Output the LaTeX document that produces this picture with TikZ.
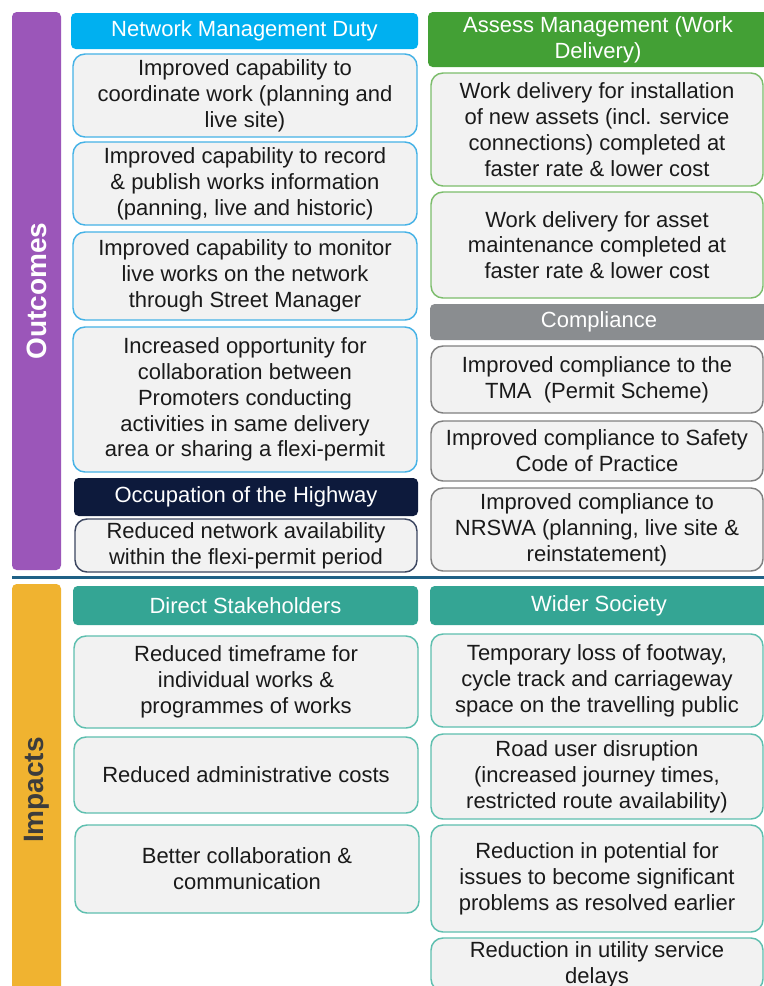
\documentclass[tikz,border=0pt]{standalone}
\usepackage{fontspec}
\setmainfont{Liberation Sans}
\definecolor{barpurple}{HTML}{9B56B9}
\definecolor{baryellow}{HTML}{F0B330}
\definecolor{sepline}{HTML}{1F6186}
\definecolor{nmdhead}{HTML}{00B0F0}
\definecolor{nmdline}{HTML}{45B2E6}
\definecolor{amhead}{HTML}{43A035}
\definecolor{amline}{HTML}{7CBD6C}
\definecolor{comphead}{HTML}{8A8D90}
\definecolor{compline}{HTML}{808080}
\definecolor{occhead}{HTML}{0D1A3C}
\definecolor{occline}{HTML}{3C4660}
\definecolor{imphead}{HTML}{34A594}
\definecolor{impline}{HTML}{5EBFAF}
\definecolor{boxfill}{HTML}{F2F2F2}
\definecolor{bodytext}{HTML}{1A1A1A}
\tikzset{
  x=0.75pt, y=-0.75pt,
  bodyfont/.style={font=\fontsize{16.5pt}{19.4pt}\selectfont},
  infobox/.style={bodyfont, draw=#1, fill=boxfill, line width=1.1pt,
    rounded corners=9pt, align=center, text=bodytext, inner sep=1pt},
  headbox/.style={bodyfont, fill=#1, rounded corners=3.5pt, align=center,
    text=white, inner sep=1pt},
  sidebar/.style={fill=#1, rounded corners=3.5pt, inner sep=0pt},
}
% place a node filling the pixel rectangle (x1,y1)-(x2,y2)
\newcommand\rectnode[7]{%
  \node[#2, minimum width={(#5-#3)*0.75pt}, minimum height={(#6-#4)*0.75pt}]
    (#1) at ({(#3+#5)/2},{(#4+#6)/2}) {#7};}
\begin{document}
\begin{tikzpicture}
\useasboundingbox (0,0) rectangle (764,986);
\clip (0,0) rectangle (764,986);
\fill[white] (0,0) rectangle (764,986);

% side bars
\rectnode{outbar}{sidebar=barpurple}{12}{12}{61}{570}{}
\node[rotate=90, text=white, font=\fontsize{21pt}{24pt}\selectfont\bfseries]
  (outlabel) at (37,291) {Outcomes};
\rectnode{impbar}{sidebar=baryellow}{12}{584}{61}{1000}{}
\node[rotate=90, text=bodytext!85, font=\fontsize{21pt}{24pt}\selectfont\bfseries]
  (implabel) at (37,790) {Impacts};

% separator
\draw[sepline, line width=2.3pt] (12,577.5) -- (764,577.5);

% Network Management Duty
\rectnode{nmd}{headbox=nmdhead}{71}{13}{418}{49}{Network Management Duty}
\rectnode{nmdA}{infobox=nmdline}{73}{54}{417}{137}{Improved capability to\\coordinate work (planning and\\live site)}
\rectnode{nmdB}{infobox=nmdline}{73}{142}{417}{225}{Improved capability to record\\\& publish works information\\(panning, live and historic)}
\rectnode{nmdC}{infobox=nmdline}{73}{232}{417}{320}{Improved capability to monitor\\live works on the network\\through Street Manager}
\rectnode{nmdD}{infobox=nmdline}{73}{327}{417}{472}{Increased opportunity for\\collaboration between\\Promoters conducting\\activities in same delivery\\area or sharing a flexi-permit}

% Occupation of the Highway
\rectnode{occ}{headbox=occhead}{74}{478}{418}{516}{Occupation of the Highway}
\rectnode{occA}{infobox=occline}{75}{519}{417}{572}{Reduced network availability\\within the flexi-permit period}

% Asset management
\rectnode{am}{headbox=amhead}{428}{12}{768}{67}{Assess Management (Work\\Delivery)}
\rectnode{amA}{infobox=amline}{431}{73}{763}{186}{Work delivery for installation\\of new assets (incl. service\\connections) completed at\\faster rate \& lower cost}
\rectnode{amB}{infobox=amline}{431}{192}{763}{298}{Work delivery for asset\\maintenance completed at\\faster rate \& lower cost}

% Compliance
\rectnode{comp}{headbox=comphead}{430}{304}{768}{340}{Compliance}
\rectnode{compA}{infobox=compline}{431}{346}{763}{413}{Improved compliance to the\\TMA\ \ (Permit Scheme)}
\rectnode{compB}{infobox=compline}{431}{421}{763}{481}{Improved compliance to Safety\\Code of Practice}
\rectnode{compC}{infobox=compline}{431}{488}{763}{571}{Improved compliance to\\NRSWA (planning, live site \&\\reinstatement)}

% Direct Stakeholders
\rectnode{ds}{headbox=imphead}{73}{586}{418}{625}{Direct Stakeholders}
\rectnode{dsA}{infobox=impline}{74}{636}{418}{728}{Reduced timeframe for\\individual works \&\\programmes of works}
\rectnode{dsB}{infobox=impline}{74}{737}{418}{813}{Reduced administrative costs}
\rectnode{dsC}{infobox=impline}{75}{825}{419}{913}{Better collaboration \&\\communication}

% Wider Society
\rectnode{ws}{headbox=imphead}{430}{586}{768}{625}{Wider Society}
\rectnode{wsA}{infobox=impline}{431}{634}{763}{727}{Temporary loss of footway,\\cycle track and carriageway\\space on the travelling public}
\rectnode{wsB}{infobox=impline}{431}{734}{763}{819}{Road user disruption\\(increased journey times,\\restricted route availability)}
\rectnode{wsC}{infobox=impline}{431}{825}{763}{932}{Reduction in potential for\\issues to become significant\\problems as resolved earlier}
\rectnode{wsD}{infobox=impline}{431}{938}{763}{991}{Reduction in utility service\\delays}
\end{tikzpicture}
\end{document}
